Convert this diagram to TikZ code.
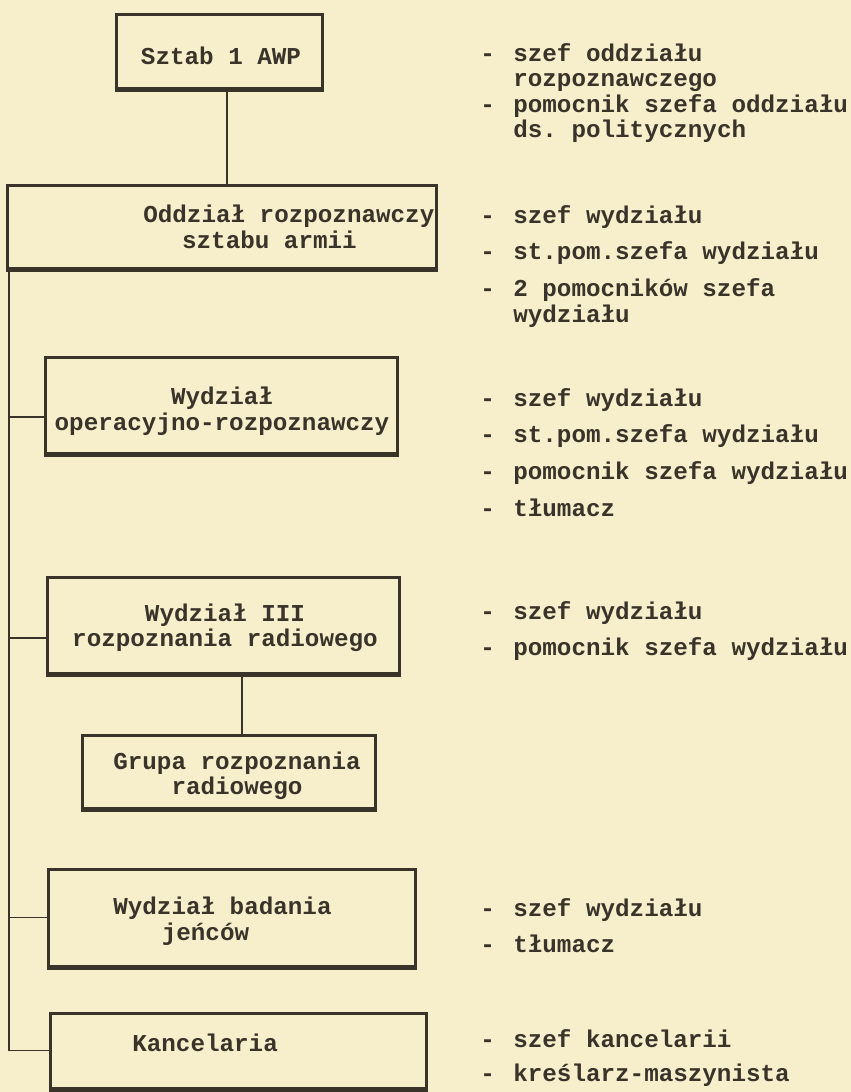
\documentclass[tikz,border=0pt]{standalone}
\usepackage{fontspec}
\setmonofont{Liberation Mono}

\definecolor{paper}{HTML}{F7EFCC}
\definecolor{ink}{HTML}{3A332A}

\newcommand{\orgfont}{\ttfamily\bfseries\fontsize{13.8}{14.5}\selectfont}
\newcommand{\duty}{\makebox[0.66cm][l]{-}}
\newcommand{\cont}{\hspace*{0.66cm}}

\tikzset{
  box/.style={draw=ink, line width=1.7pt, rectangle, inner sep=0pt},
  boxtext/.style={text=ink, font=\orgfont, align=center, inner sep=0pt},
  duties/.style={text=ink, font=\orgfont, anchor=base west, inner sep=0pt},
  link/.style={draw=ink, line width=1.1pt},
}

\begin{document}
\begin{tikzpicture}[x=0.02cm, y=-0.02cm]

        \def\entrysep{6.5pt}

        \fill[paper] (0,0) rectangle (851,1092);
        \useasboundingbox (0,0) rectangle (851,1092);

        % boxes
        \node[box, minimum width=4.14cm, minimum height=1.48cm] (sztab) at (219.5,51) {};
        \node[box, minimum width=8.6cm, minimum height=1.66cm] (oddzial) at (222,226.5) {};
        \node[box, minimum width=7.06cm, minimum height=1.92cm] (operac) at (221.5,405) {};
        \node[box, minimum width=7.06cm, minimum height=1.92cm] (radio) at (223.5,625) {};
        \node[box, minimum width=5.88cm, minimum height=1.46cm] (grupa) at (229,771.5) {};
        \node[box, minimum width=7.36cm, minimum height=1.94cm] (jency) at (232,917.5) {};
        \node[box, minimum width=7.54cm, minimum height=1.5cm] (kanc) at (238.5,1050.5) {};

        \foreach \b in {sztab,oddzial,operac,radio,grupa,jency,kanc}
          \draw[ink, line width=2.8pt] (\b.south west) -- (\b.south east);

        % box texts
        \node[boxtext] (sztab-t) at (221,56) {Sztab 1 AWP};
        \node[boxtext, align=left, anchor=west] (oddzial-t) at (143,227) {Oddział rozpoznawczy\\\hspace*{1.6em}sztabu armii};
        \node[boxtext] (operac-t) at (222,411) {Wydział\\operacyjno-rozpoznawczy};
        \node[boxtext] (radio-t) at (225,628) {Wydział III\\rozpoznania radiowego};
        \node[boxtext] (grupa-t) at (237,776) {Grupa rozpoznania\\radiowego};
        \node[boxtext, align=left, anchor=west] (jency-t) at (113,921) {Wydział badania\\\hspace*{2em}jeńców};
        \node[boxtext, anchor=west] (kanc-t) at (132,1043) {Kancelaria};

        % connectors
        \coordinate (trunk) at (9,0);
        \coordinate (op-in) at ([yshift=-0.24cm]operac.west);
        \coordinate (ra-in) at ([yshift=-0.26cm]radio.west);
        \coordinate (stop) at ([xshift=0.15cm]sztab.south);
        \coordinate (gtop) at ([xshift=0.26cm]grupa.north);

        \draw[link] (stop) -- (stop |- oddzial.north);
        \draw[link] (trunk |- oddzial.south) -- (trunk |- kanc.west) -- (kanc.west);
        \draw[link] (trunk |- op-in) -- (op-in);
        \draw[link] (trunk |- ra-in) -- (ra-in);
        \draw[link] (trunk |- jency.west) -- (jency.west);
        \draw[link] (gtop |- radio.south) -- (gtop);

        % duties
        \node[duties] (sztab-d) at (480,61) {\begin{tabular}[t]{@{}l@{}}
          \duty szef oddziału\\
          \cont rozpoznawczego\\
          \duty pomocnik szefa oddziału\\
          \cont ds. politycznych
        \end{tabular}};
        \node[duties] (oddzial-d) at (480,223) {\begin{tabular}[t]{@{}l@{}}
          \duty szef wydziału\\[\entrysep]
          \duty st.pom.szefa wydziału\\[\entrysep]
          \duty 2 pomocników szefa\\
          \cont wydziału
        \end{tabular}};
        \node[duties] (operac-d) at (480,406) {\begin{tabular}[t]{@{}l@{}}
          \duty szef wydziału\\[\entrysep]
          \duty st.pom.szefa wydziału\\[\entrysep]
          \duty pomocnik szefa wydziału\\[\entrysep]
          \duty tłumacz
        \end{tabular}};
        \node[duties] (radio-d) at (480,619) {\begin{tabular}[t]{@{}l@{}}
          \duty szef wydziału\\[\entrysep]
          \duty pomocnik szefa wydziału
        \end{tabular}};
        \node[duties] (jency-d) at (480,916) {\begin{tabular}[t]{@{}l@{}}
          \duty szef wydziału\\[\entrysep]
          \duty tłumacz
        \end{tabular}};
        \node[duties] (kanc-d) at (480,1047) {\begin{tabular}[t]{@{}l@{}}
          \duty szef kancelarii\\[5pt]
          \duty kreślarz-maszynista
        \end{tabular}};

      \end{tikzpicture}
\end{document}
